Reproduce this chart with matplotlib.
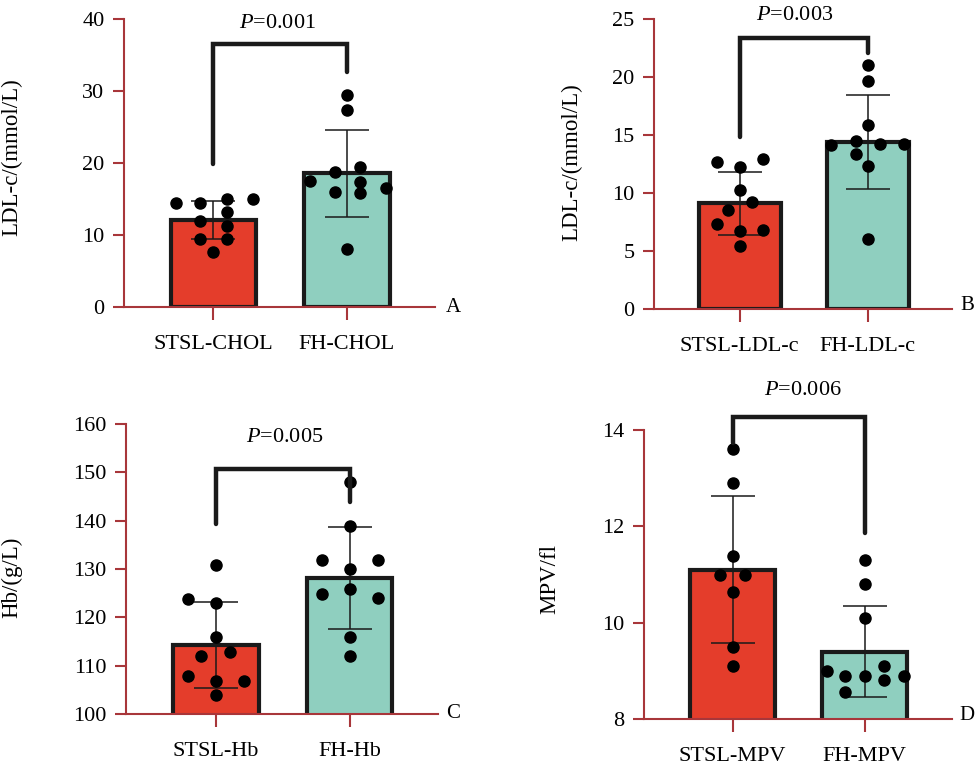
import numpy as np
import matplotlib
matplotlib.use('Agg')
import matplotlib.pyplot as plt

plt.rcParams['font.family'] = ['Liberation Serif', 'DejaVu Serif']
plt.rcParams['mathtext.fontset'] = 'custom'
plt.rcParams['mathtext.rm'] = 'Liberation Serif'
plt.rcParams['mathtext.it'] = 'Liberation Serif:italic'

# ---- data ----
# panel A: CHOL
a_labels = ['STSL-CHOL', 'FH-CHOL']
a_mean = [12.1, 18.6]
a_sd = [2.65, 6.05]
a_red_x = [-0.28, -0.10, 0.10, 0.30, 0.10, -0.10, 0.10, -0.10, 0.10, 0.0]
a_red_y = [14.4, 14.4, 15.0, 15.0, 13.2, 11.9, 11.2, 9.5, 9.4, 7.6]
a_grn_x = [0.0, 0.0, -0.09, 0.10, -0.28, 0.10, -0.09, 0.10, 0.29, 0.0]
a_grn_y = [29.4, 27.4, 18.75, 19.4, 17.5, 17.4, 16.0, 15.8, 16.5, 8.1]

# panel B: LDL-c
b_labels = ['STSL-LDL-c', 'FH-LDL-c']
b_mean = [9.1, 14.4]
b_sd = [2.7, 4.05]
b_red_x = [-0.18, 0.0, 0.18, 0.0, 0.10, -0.09, -0.18, 0.0, 0.18, 0.0]
b_red_y = [12.7, 12.25, 12.9, 10.3, 9.2, 8.5, 7.3, 6.7, 6.8, 5.4]
b_grn_x = [0.0, 0.0, 0.0, -0.286, -0.094, 0.096, 0.284, -0.094, 0.0, 0.0]
b_grn_y = [21.0, 19.65, 15.9, 14.1, 14.5, 14.2, 14.25, 13.4, 12.3, 6.0]

# panel C: Hb
c_labels = ['STSL-Hb', 'FH-Hb']
c_mean = [114.3, 128.1]
c_sd = [8.9, 10.5]
c_red_x = [0.0, -0.21, 0.0, 0.0, -0.11, 0.105, -0.21, 0.0, 0.21, 0.0]
c_red_y = [130.9, 123.8, 122.9, 116.0, 112.0, 112.8, 107.9, 106.9, 106.9, 103.9]
c_grn_x = [0.0, 0.0, -0.21, 0.213, 0.0, -0.21, 0.0, 0.213, 0.0, 0.0]
c_grn_y = [147.9, 139.0, 131.9, 131.9, 129.9, 124.9, 125.9, 123.9, 116.0, 112.0]

# panel D: MPV
d_labels = ['STSL-MPV', 'FH-MPV']
d_mean = [11.1, 9.4]
d_sd = [1.53, 0.95]
d_red_x = [0.0, 0.0, 0.0, -0.093, 0.096, 0.0, 0.0, 0.0]
d_red_y = [13.6, 12.9, 11.39, 10.99, 10.99, 10.63, 9.49, 9.09]
d_grn_x = [0.0, 0.0, 0.0, -0.285, -0.146, 0.0, 0.144, 0.144, 0.295, -0.146]
d_grn_y = [11.3, 10.8, 10.09, 8.99, 8.9, 8.9, 9.09, 8.8, 8.9, 8.57]

RED = '#E43D2B'
GREEN = '#8FCFBF'
AXC = '#A8363A'
FS = 16

W, H = 976, 765
fig = plt.figure(figsize=(W / 100, H / 100), dpi=100)


def fx(px):
    return px / W


def fy(py):
    return 1 - py / H


def panel(box, labels, mean, sd, red, grn, ylim, yticks, ylabel, ylab_xy,
          bracket, ptext, pxy, letter, letter_xy):
    left, top, right, bottom = box
    ax = fig.add_axes([fx(left), fy(bottom), fx(right) - fx(left), fy(top) - fy(bottom)])
    x = np.arange(2)
    ax.bar(x, mean, width=0.64, color=[RED, GREEN], edgecolor='#1a1a1a',
           linewidth=3, zorder=2)
    ax.errorbar(x, mean, yerr=sd, fmt='none', ecolor='#1a1a1a', elinewidth=1.1,
                capsize=16, capthick=1.1, zorder=3)
    ax.scatter(np.array(red[0]), red[1], s=64, color='black', zorder=4, clip_on=False)
    ax.scatter(1 + np.array(grn[0]), grn[1], s=64, color='black', zorder=4, clip_on=False)
    y0, ytop, y1 = bracket
    ax.plot([0, 0, 1, 1], [y0, ytop, ytop, y1], color='#1a1a1a', lw=3.2,
            solid_joinstyle='miter', solid_capstyle='round', clip_on=False, zorder=5)
    ax.set_xlim(-0.67, 1.66)
    ax.set_ylim(*ylim)
    ax.set_yticks(yticks)
    ax.set_xticks(x)
    ax.set_xticklabels(labels, fontsize=FS)
    ax.tick_params(axis='y', labelsize=FS, colors=AXC, labelcolor='black',
                   length=8, width=1.5, pad=6)
    ax.tick_params(axis='x', colors=AXC, labelcolor='black', length=9, width=1.5, pad=11)
    for s in ['top', 'right']:
        ax.spines[s].set_visible(False)
    for s in ['left', 'bottom']:
        ax.spines[s].set_color(AXC)
        ax.spines[s].set_linewidth(1.5)
    ax.set_ylabel(ylabel, fontsize=16.5)
    ax.yaxis.set_label_coords(fx(ylab_xy[0]), fy(ylab_xy[1]), transform=fig.transFigure)
    fig.text(fx(pxy[0]), fy(pxy[1]), r'$\mathit{P}$=' + ptext, fontsize=FS,
             ha='center', va='center')
    fig.text(fx(letter_xy[0]), fy(letter_xy[1]), letter, fontsize=15,
             ha='left', va='center')
    return ax


panel((124, 19, 435, 307), a_labels, a_mean, a_sd, (a_red_x, a_red_y), (a_grn_x, a_grn_y),
      (0, 40), [0, 10, 20, 30, 40], 'LDL-c/(mmol/L)', (22, 157),
      (19.9, 36.5, 32.7), '0.001', (277, 23), 'A', (446, 307))
panel((654, 19, 952, 309), b_labels, b_mean, b_sd, (b_red_x, b_red_y), (b_grn_x, b_grn_y),
      (0, 25), [0, 5, 10, 15, 20, 25], 'LDL-c/(mmol/L)', (582, 162),
      (14.8, 23.4, 22.1), '0.003', (795, 15), 'B', (960, 305))
panel((126, 424, 438, 714), c_labels, c_mean, c_sd, (c_red_x, c_red_y), (c_grn_x, c_grn_y),
      (100, 160), [100, 110, 120, 130, 140, 150, 160], 'Hb/(g/L)', (22, 577),
      (139.4, 150.7, 143.8), '0.005', (285, 438), 'C', (446, 714))
panel((644, 430, 952, 719), d_labels, d_mean, d_sd, (d_red_x, d_red_y), (d_grn_x, d_grn_y),
      (8, 14), [8, 10, 12, 14], 'MPV/fl', (560, 579),
      (13.72, 14.26, 11.86), '0.006', (803, 391), 'D', (959, 715))

fig.savefig('out.png', dpi=100)
